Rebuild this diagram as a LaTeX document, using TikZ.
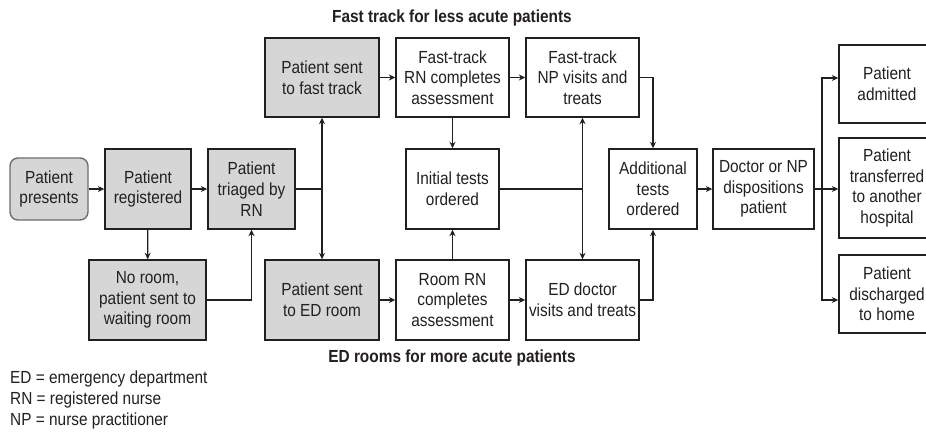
\documentclass[tikz,border=0pt]{standalone}
\usepackage{fontspec}
\setmainfont{Liberation Sans}[FakeStretch=0.88]
\usetikzlibrary{arrows.meta,calc}
\definecolor{ink}{HTML}{231F20}
\definecolor{boxgray}{HTML}{D6D6D6}
\definecolor{rimgray}{HTML}{6E6E6E}
\begin{document}
\begin{tikzpicture}[x=1pt,y=-1pt,
  txt/.style={font=\fontsize{17.5}{20.7}\selectfont, text=ink, align=center, inner sep=0pt},
  box/.style={txt, draw=ink, line width=1.4pt, rectangle},
  shaded/.style={box, fill=boxgray},
  startbox/.style={txt, draw=rimgray, fill=boxgray, line width=1.4pt, rounded corners=8pt},
  conn/.style={draw=ink, line width=1.3pt},
  arr/.style={conn, -{Stealth[length=6.5pt,width=6pt]}},
  heading/.style={font=\bfseries\fontsize{17.5}{20.7}\selectfont, text=ink, inner sep=0pt}
]
\clip (0,0) rectangle (926,432);
\fill[white] (0,0) rectangle (926,432);

% intake
\node[startbox, minimum width=78pt, minimum height=62pt] (pres) at (49,189) {Patient\\presents};
\node[shaded, minimum width=86pt, minimum height=80pt] (reg) at (148,189) {Patient\\registered};
\node[shaded, minimum width=87pt, minimum height=80pt] (tri) at (251.5,189) {Patient\\triaged by\\RN};
\node[shaded, minimum width=117pt, minimum height=80pt] (wait) at (147.5,300) {No room,\\patient sent to\\waiting room};

% routing
\node[shaded, minimum width=114pt, minimum height=79pt] (fast) at (322,77.5) {Patient sent\\to fast track};
\node[shaded, minimum width=114pt, minimum height=80pt] (edroom) at (322,300) {Patient sent\\to ED room};

% fast track
\node[box, minimum width=113pt, minimum height=79pt] (ftrn) at (452.5,77.5) {Fast-track\\RN completes\\assessment};
\node[box, minimum width=113pt, minimum height=79pt] (ftnp) at (582.5,77.5) {Fast-track\\NP visits and\\treats};
\node[box, minimum width=93pt, minimum height=80pt] (init) at (452.5,189) {Initial tests\\ordered};

% ED rooms
\node[box, minimum width=113pt, minimum height=80pt] (roomrn) at (452.5,300) {Room RN\\completes\\assessment};
\node[box, minimum width=113pt, minimum height=80pt] (eddoc) at (582.5,300) {ED doctor\\visits and treats};

% disposition
\node[box, minimum width=88pt, minimum height=80pt] (addl) at (653,189) {Additional\\tests\\ordered};
\node[box, minimum width=101pt, minimum height=80pt] (disp) at (763.5,189) {Doctor or NP\\dispositions\\patient};
\node[box, minimum width=96pt, minimum height=78pt] (adm) at (887,84) {Patient\\admitted};
\node[box, minimum width=96pt, minimum height=100pt] (trans) at (887,188) {Patient\\transferred\\to another\\hospital};
\node[box, minimum width=96pt, minimum height=78pt] (home) at (887,294) {Patient\\discharged\\to home};

% headings and legend
\node[heading] (fthead) at (452,18) {Fast track for less acute patients};
\node[heading] (edhead) at (452,358) {ED rooms for more acute patients};
\node[txt, align=left, anchor=north west] (legend) at (10,371) {ED = emergency department\\RN = registered nurse\\NP = nurse practitioner};

% branch points
\coordinate (s1) at (322,189);
\coordinate (s2) at (582.5,189);
\coordinate (s3) at (822,189);

% connectors
\draw[arr] (pres) -- (reg);
\draw[arr] (reg) -- (tri);
\draw[arr] (reg) -- (wait);
\draw[arr] (wait.east) -| (tri.south);
\draw[conn] (tri.east) -- (s1);
\draw[arr] (s1) -- (fast.south);
\draw[arr] (s1) -- (edroom.north);
\draw[arr] (fast) -- (ftrn);
\draw[arr] (ftrn) -- (ftnp);
\draw[arr] (ftrn) -- (init);
\draw[arr] (edroom) -- (roomrn);
\draw[arr] (roomrn) -- (eddoc);
\draw[arr] (roomrn) -- (init);
\draw[conn] (init.east) -- (s2);
\draw[arr] (s2) -- (ftnp.south);
\draw[arr] (s2) -- (eddoc.north);
\draw[arr] (ftnp.east) -| (addl.north);
\draw[arr] (eddoc.east) -| (addl.south);
\draw[arr] (addl) -- (disp);
\draw[conn] (disp.east) -- (s3);
\draw[arr] (s3) |- ([yshift=6pt]adm.west);
\draw[arr] (s3) -- (trans.west |- s3);
\draw[arr] (s3) |- ([yshift=-6pt]home.west);
\end{tikzpicture}
\end{document}
